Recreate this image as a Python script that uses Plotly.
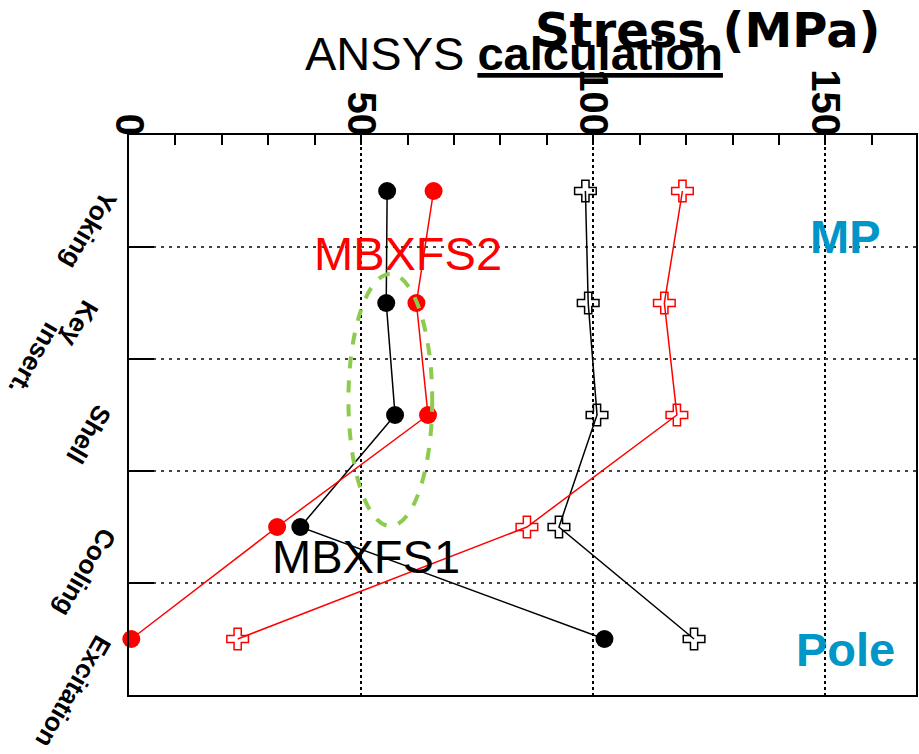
import plotly.graph_objects as go

# ---------------- data ----------------
stages = ["Yoking", "Key insert.", "Shell", "Cooling", "Excitation"]
mbxfs1_mp = [55.6, 55.4, 57.3, 36.9, 102.4]      # black filled
mbxfs2_mp = [65.6, 61.9, 64.4, 31.9, 0.5]        # red filled
mbxfs1_pole = [98.3, 98.9, 100.8, 92.6, 121.7]   # black cross
mbxfs2_pole = [119.2, 115.3, 118.0, 85.7, 23.4]  # red cross
x_ticks = [0, 50, 100, 150]

# ---------------- layout helpers ----------------
W, H = 919, 754
L, R, T, B = 129, 918, 135, 695


def px(x):
    return (x - L) / (R - L)


def py(y):
    return (B - y) / (B - T)


fig = go.Figure()

series = [
    (mbxfs1_mp, "black", "circle"),
    (mbxfs1_pole, "black", "cross-open"),
    (mbxfs2_mp, "red", "circle"),
    (mbxfs2_pole, "red", "cross-open"),
]
for vals, col, sym in series:
    if sym == "circle":
        marker = dict(symbol="circle", size=18, color=col, line=dict(width=0))
    else:
        marker = dict(symbol="cross-open", size=18, color=col, line=dict(width=1.5, color=col))
    fig.add_trace(go.Scatter(
        x=vals, y=stages, mode="lines+markers",
        line=dict(color=col, width=1.5),
        marker=marker, cliponaxis=False, showlegend=False,
    ))

fig.update_xaxes(
    range=[0, 169.5], side="top",
    tickvals=x_ticks, ticktext=[str(v) for v in x_ticks],
    tickangle=90,
    tickfont=dict(family="Liberation Sans", size=40, color="black", weight="bold"),
    ticks="inside", ticklen=10, tickwidth=1.5, tickcolor="black",
    minor=dict(dtick=10, ticks="inside", ticklen=10, tickwidth=1.5, tickcolor="black", showgrid=False),
    showgrid=True, gridcolor="black", griddash="dot", gridwidth=2,
    showline=True, linecolor="black", linewidth=2, mirror=True,
    zeroline=False, ticklabelstandoff=-17,
)
fig.update_yaxes(
    type="category", categoryorder="array", categoryarray=stages,
    range=[4.5, -0.5], autorange=False,
    showticklabels=False,
    tickson="boundaries", ticks="inside", ticklen=25, tickwidth=1.5, tickcolor="black",
    showgrid=True, gridcolor="#444444", griddash="3px,5px", gridwidth=1.5,
    showline=True, linecolor="black", linewidth=2, mirror=True,
    zeroline=False,
)

# category labels drawn as rotated text next to the y axis
label_font = dict(family="Liberation Sans", size=26, color="black", weight="bold")
label_parts = [
    ("Yoking", "Yoking", 126, 8),
    ("Key insert.", "Key", 107, 10),
    ("Key insert.", "insert.", 70, -12),
    ("Shell", "Shell", 120, 18),
    ("Cooling", "Cooling", 125, 7),
    ("Excitation", "Excitation", 120, 11),
]
for cat, txt, right_px, shift in label_parts:
    fig.add_annotation(text=txt, xref="paper", yref="y", x=px(right_px), y=cat,
                       xanchor="right", yanchor="top", yshift=shift,
                       textangle=120, showarrow=False, font=label_font)

annotations = [
    dict(text="Stress (MPa)", x=px(709), y=py(0), yanchor="top",
         font=dict(family="DejaVu Sans", size=48, color="black", weight="bold")),
    dict(text="ANSYS <b><u>calculation</u></b>", x=px(515), y=py(53), yanchor="middle",
         font=dict(family="Liberation Sans", size=47, color="black")),
    dict(text="MBXFS2", x=px(409), y=py(253), yanchor="middle",
         font=dict(family="Liberation Sans", size=47, color="red")),
    dict(text="MBXFS1", x=px(367), y=py(556), yanchor="middle",
         font=dict(family="Liberation Sans", size=47, color="black")),
    dict(text="MP", x=px(847), y=py(236), yanchor="middle",
         font=dict(family="Liberation Sans", size=47, color="#0096C8", weight="bold")),
    dict(text="Pole", x=px(847), y=py(649), yanchor="middle",
         font=dict(family="Liberation Sans", size=47, color="#0096C8", weight="bold")),
]
for a in annotations:
    fig.add_annotation(xref="paper", yref="paper", showarrow=False,
                       xanchor="center", **a)

fig.add_shape(type="circle", xref="paper", yref="paper",
              x0=px(349), x1=px(433), y0=py(526), y1=py(274),
              line=dict(color="#8CCB4E", width=4, dash="dash"))

fig.update_layout(
    width=W, height=H,
    margin=dict(l=L, r=W - R, t=T, b=H - B),
    paper_bgcolor="white", plot_bgcolor="white",
    font=dict(family="Liberation Sans", color="black"),
)

fig.write_html("out.html")
